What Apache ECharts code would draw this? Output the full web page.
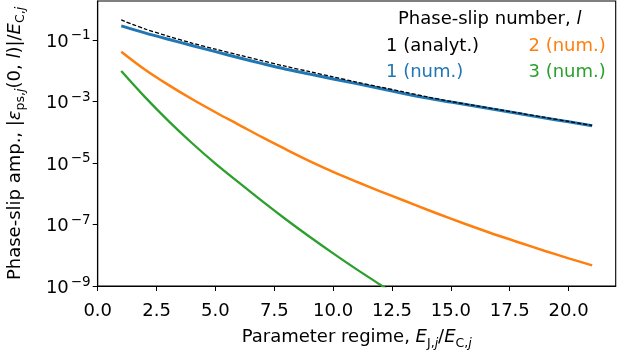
<!DOCTYPE html>
<html>
<head>
<meta charset="utf-8">
<script src="https://cdn.jsdelivr.net/npm/echarts@6/dist/echarts.min.js"></script>
<style>
  html, body { margin: 0; padding: 0; background: #fff; }
  #chart { width: 638px; height: 350px; }
</style>
</head>
<body>
<div id="chart"></div>
<script>
// Parameter regime E_J/E_C at which the amplitudes are evaluated
const ratio = [1, 2, 3, 4, 5, 6, 7, 8, 9, 10, 11, 12, 13, 14, 15, 16, 17, 18, 19, 20, 21];

// |eps_ps(0, l)| / E_C for each phase-slip number
const analytic1 = [4.47e-1, 2.29e-1, 1.32e-1, 7.94e-2, 5.01e-2, 3.24e-2, 2.09e-2, 1.38e-2, 9.33e-3, 6.31e-3,
                   4.27e-3, 2.95e-3, 2.04e-3, 1.41e-3, 1.00e-3, 7.41e-4, 5.50e-4, 4.07e-4, 3.02e-4, 2.24e-4, 1.66e-4];
const numeric1  = [2.88e-1, 1.70e-1, 1.05e-1, 6.61e-2, 4.17e-2, 2.63e-2, 1.70e-2, 1.12e-2, 7.76e-3, 5.37e-3,
                   3.80e-3, 2.63e-3, 1.82e-3, 1.29e-3, 9.55e-4, 7.08e-4, 5.25e-4, 3.89e-4, 2.88e-4, 2.19e-4, 1.62e-4];
const numeric2  = [4.17e-2, 1.10e-2, 3.47e-3, 1.20e-3, 4.47e-4, 1.74e-4, 6.76e-5, 2.75e-5, 1.15e-5, 5.13e-6,
                   2.45e-6, 1.20e-6, 6.03e-7, 3.02e-7, 1.55e-7, 8.13e-8, 4.37e-8, 2.45e-8, 1.38e-8, 7.94e-9, 4.68e-9];
const numeric3  = [9.77e-3, 1.41e-3, 2.34e-4, 4.47e-5, 9.55e-6, 2.29e-6, 5.62e-7, 1.45e-7, 3.98e-8, 1.15e-8,
                   3.47e-9, 1.10e-9, 3.47e-10];

// Axis ticks
const xTicks = [0, 2.5, 5, 7.5, 10, 12.5, 15, 17.5, 20];
const yTicks = [1e-9, 1e-7, 1e-5, 1e-3, 1e-1];

const FONT = 'DejaVu Sans';
const FS = 18;

const pairs = (vals) => vals.map((v, i) => [ratio[i], v]);

const chart = echarts.init(document.getElementById('chart'), null, { renderer: 'canvas' });

const mathRich = {
  it:    { fontFamily: FONT, fontSize: FS, fontStyle: 'italic', color: '#000', lineHeight: 25 },
  sub:   { fontFamily: FONT, fontSize: 12.5, color: '#000', verticalAlign: 'bottom', lineHeight: 12 },
  subit: { fontFamily: FONT, fontSize: 12.5, fontStyle: 'italic', color: '#000', verticalAlign: 'bottom', lineHeight: 12 }
};

chart.setOption({
  animation: false,
  backgroundColor: '#fff',
  textStyle: { fontFamily: FONT },
  title: {
    text: 'Phase-slip number, {it|l}',
    left: 393,
    top: 5,
    textStyle: {
      fontFamily: FONT, fontSize: FS, fontWeight: 'normal', color: '#000',
      rich: { it: { fontFamily: FONT, fontSize: FS, fontStyle: 'italic', color: '#000' } }
    }
  },
  legend: [
    {
      orient: 'vertical', left: 376, top: 32, icon: 'none', itemWidth: 0, itemHeight: 14, itemGap: 8.7,
      selectedMode: false,
      textStyle: { fontFamily: FONT, fontSize: FS, lineHeight: 18 },
      data: [
        { name: '1 (analyt.)', textStyle: { color: '#000' } },
        { name: '1 (num.)', textStyle: { color: '#1f77b4' } }
      ]
    },
    {
      orient: 'vertical', left: 518.5, top: 32, icon: 'none', itemWidth: 0, itemHeight: 14, itemGap: 8.7,
      selectedMode: false,
      textStyle: { fontFamily: FONT, fontSize: FS, lineHeight: 18 },
      data: [
        { name: '2 (num.)', textStyle: { color: '#ff7f0e' } },
        { name: '3 (num.)', textStyle: { color: '#2ca02c' } }
      ]
    }
  ],
  grid: {
    left: 97.7, right: 22.3, top: 1, bottom: 64,
    containLabel: false,
    outerBoundsMode: 'none',
    show: true, borderColor: '#000', borderWidth: 1.1, backgroundColor: 'transparent'
  },
  xAxis: {
    type: 'value',
    min: 0, max: 22,
    name: 'Parameter regime, {it|E}{sub|J,}{subit|j}/{it|E}{sub|C,}{subit|j}',
    nameLocation: 'middle',
    nameGap: 31,
    nameTextStyle: { fontFamily: FONT, fontSize: FS, color: '#000', lineHeight: 25, rich: mathRich },
    axisLine: { show: true, lineStyle: { color: '#000', width: 1.1 } },
    axisTick: { show: true, inside: false, length: 5, customValues: xTicks, lineStyle: { color: '#000', width: 1 } },
    axisLabel: {
      customValues: xTicks,
      margin: 16,
      fontFamily: FONT, fontSize: FS, color: '#000',
      formatter: (v) => Number(v).toFixed(1)
    },
    splitLine: { show: false }
  },
  yAxis: {
    type: 'log',
    logBase: 10,
    min: 1e-9, max: 1.85,
    name: 'Phase-slip amp., |{it|ε}{sub|ps,}{subit|j}(0, {it|l})|/{it|E}{sub|C,}{subit|j}',
    nameLocation: 'middle',
    nameRotate: 90,
    nameGap: 70,
    nameTextStyle: { fontFamily: FONT, fontSize: FS, color: '#000', lineHeight: 25, rich: mathRich },
    axisLine: { show: true, lineStyle: { color: '#000', width: 1.1 } },
    axisTick: { show: true, inside: false, length: 5, customValues: yTicks, lineStyle: { color: '#000', width: 1 } },
    axisLabel: {
      customValues: yTicks,
      margin: 7,
      fontFamily: FONT, fontSize: FS, color: '#000',
      formatter: (v) => '{b|10}{s|\u2212' + Math.round(-Math.log10(v)) + '}',
      rich: {
        b: { fontFamily: FONT, fontSize: FS, color: '#000', lineHeight: 22, verticalAlign: 'bottom' },
        s: { fontFamily: FONT, fontSize: 13.5, color: '#000', lineHeight: 13, verticalAlign: 'top', padding: [0, 0, 0, 2] }
      }
    },
    splitLine: { show: false },
    minorTick: { show: false }
  },
  series: [
    {
      name: '1 (num.)', type: 'line', data: pairs(numeric1), showSymbol: false, smooth: 0.3,
      lineStyle: { color: '#1f77b4', width: 3 }, itemStyle: { color: '#1f77b4' }, z: 2
    },
    {
      name: '1 (analyt.)', type: 'line', data: pairs(analytic1), showSymbol: false, smooth: 0.3,
      lineStyle: { color: '#000', width: 1.3, type: [4, 2] }, itemStyle: { color: '#000' }, z: 5
    },
    {
      name: '2 (num.)', type: 'line', data: pairs(numeric2), showSymbol: false, smooth: 0.3,
      lineStyle: { color: '#ff7f0e', width: 2.5 }, itemStyle: { color: '#ff7f0e' }, z: 3
    },
    {
      name: '3 (num.)', type: 'line', data: pairs(numeric3), showSymbol: false, smooth: 0.3, clip: true,
      lineStyle: { color: '#2ca02c', width: 2.3 }, itemStyle: { color: '#2ca02c' }, z: 3
    }
  ]
});
</script>
</body>
</html>
